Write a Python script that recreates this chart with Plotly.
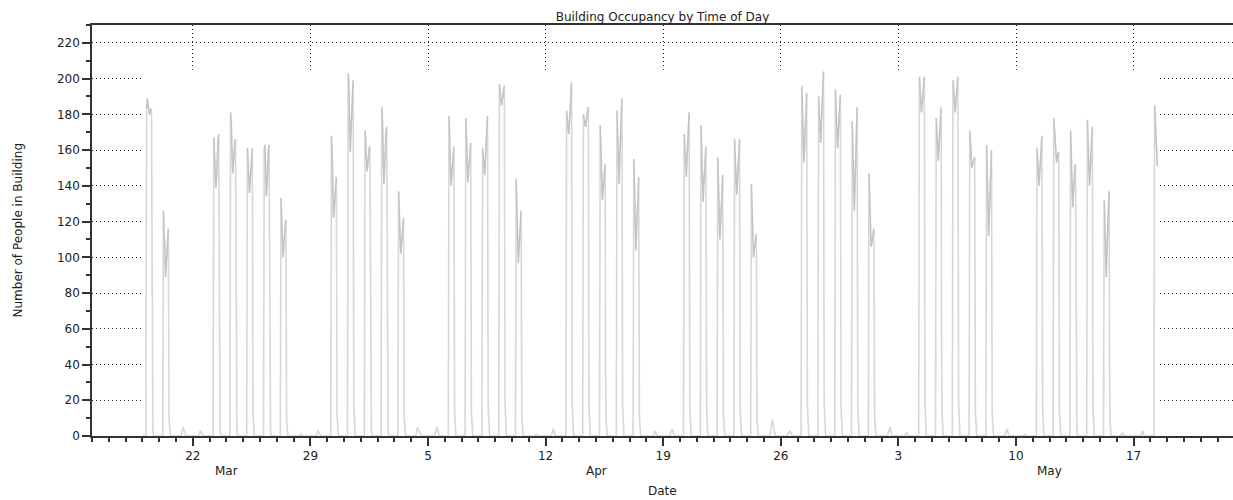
import plotly.graph_objects as go
import pandas as pd

# ---------------- data ----------------
day_start = "2020-03-19"
day_end = "2020-05-18"
data_end = "2020-05-18 10:00"
first_hour = 6  # each row gives the hourly counts from 06:00 to 15:00; other hours are 0

occupancy_rows = [
    [183, 189, 186, 182, 180, 181, 183, 182, 12, 3],   # Mar 19
    [126, 118, 104, 89, 96, 108, 116, 116, 10, 2],     # Mar 20
    [0, 0, 1, 3, 5, 4, 2, 1, 0, 0],                    # Mar 21
    [0, 0, 0, 1, 2, 3, 2, 1, 0, 0],                    # Mar 22
    [167, 160, 150, 139, 145, 158, 165, 169, 14, 4],   # Mar 23
    [181, 175, 160, 147, 152, 160, 165, 166, 16, 4],   # Mar 24
    [161, 155, 145, 136, 142, 152, 158, 161, 12, 3],   # Mar 25
    [160, 163, 150, 134, 140, 152, 160, 163, 15, 4],   # Mar 26
    [133, 125, 110, 100, 104, 112, 118, 121, 8, 2],    # Mar 27
    [0, 0, 0, 0, 1, 1, 0, 0, 0, 0],                    # Mar 28
    [0, 0, 0, 1, 2, 3, 2, 1, 0, 0],                    # Mar 29
    [168, 160, 140, 122, 128, 136, 142, 145, 12, 3],   # Mar 30
    [203, 196, 175, 159, 170, 185, 195, 199, 18, 5],   # Mar 31
    [171, 166, 155, 148, 152, 158, 161, 162, 14, 4],   # Apr 1
    [184, 176, 158, 141, 150, 162, 170, 173, 15, 4],   # Apr 2
    [137, 128, 112, 102, 106, 114, 120, 122, 10, 3],   # Apr 3
    [0, 1, 3, 5, 4, 3, 2, 1, 0, 0],                    # Apr 4
    [0, 0, 0, 0, 1, 2, 4, 5, 3, 1],                    # Apr 5
    [179, 170, 152, 140, 146, 155, 160, 162, 14, 4],   # Apr 6
    [178, 168, 152, 142, 148, 156, 162, 164, 14, 3],   # Apr 7
    [161, 156, 150, 146, 155, 165, 174, 179, 16, 4],   # Apr 8
    [197, 194, 189, 185, 188, 192, 195, 196, 20, 5],   # Apr 9
    [144, 130, 110, 97, 104, 114, 122, 126, 10, 3],    # Apr 10
    [0, 0, 0, 0, 1, 1, 1, 0, 0, 0],                    # Apr 11
    [0, 0, 0, 1, 2, 4, 3, 1, 0, 0],                    # Apr 12
    [182, 176, 172, 169, 175, 184, 192, 198, 18, 5],   # Apr 13
    [180, 178, 176, 173, 176, 180, 183, 184, 16, 4],   # Apr 14
    [174, 165, 148, 132, 138, 145, 150, 152, 12, 3],   # Apr 15
    [182, 170, 155, 141, 155, 170, 182, 189, 16, 4],   # Apr 16
    [155, 140, 120, 104, 115, 128, 140, 145, 10, 2],   # Apr 17
    [0, 0, 0, 0, 0, 1, 2, 3, 1, 0],                    # Apr 18
    [0, 0, 0, 0, 1, 2, 3, 4, 2, 0],                    # Apr 19
    [169, 160, 150, 145, 155, 165, 175, 181, 15, 4],   # Apr 20
    [174, 162, 145, 131, 140, 150, 158, 162, 14, 3],   # Apr 21
    [156, 145, 125, 110, 120, 132, 142, 146, 12, 3],   # Apr 22
    [166, 158, 145, 135, 142, 152, 162, 166, 14, 4],   # Apr 23
    [141, 130, 112, 100, 104, 108, 112, 113, 9, 2],    # Apr 24
    [0, 0, 0, 1, 3, 6, 9, 7, 4, 1],                    # Apr 25
    [0, 0, 0, 0, 1, 2, 3, 3, 2, 1],                    # Apr 26
    [196, 185, 165, 153, 162, 175, 186, 192, 18, 5],   # Apr 27
    [190, 182, 170, 164, 175, 188, 198, 204, 18, 5],   # Apr 28
    [194, 185, 170, 161, 168, 178, 187, 191, 16, 4],   # Apr 29
    [176, 160, 140, 126, 140, 158, 174, 184, 15, 4],   # Apr 30
    [147, 135, 118, 106, 108, 112, 115, 116, 10, 2],   # May 1
    [0, 0, 0, 1, 2, 4, 5, 3, 1, 0],                    # May 2
    [0, 0, 0, 0, 1, 2, 2, 1, 0, 0],                    # May 3
    [201, 196, 188, 181, 186, 193, 199, 201, 18, 5],   # May 4
    [178, 170, 160, 154, 162, 172, 180, 184, 16, 4],   # May 5
    [199, 194, 186, 181, 186, 193, 198, 201, 18, 5],   # May 6
    [171, 165, 158, 150, 152, 154, 156, 156, 14, 6],   # May 7
    [163, 150, 128, 112, 125, 140, 152, 160, 12, 3],   # May 8
    [0, 0, 0, 1, 2, 4, 3, 1, 0, 0],                    # May 9
    [0, 0, 0, 0, 0, 0, 1, 1, 0, 0],                    # May 10
    [161, 154, 146, 140, 148, 156, 163, 168, 15, 4],   # May 11
    [178, 172, 165, 158, 153, 156, 158, 159, 14, 4],   # May 12
    [171, 160, 142, 128, 135, 144, 150, 152, 12, 3],   # May 13
    [177, 168, 152, 140, 150, 162, 170, 173, 15, 4],   # May 14
    [132, 118, 100, 89, 105, 120, 132, 137, 10, 2],    # May 15
    [0, 1, 2, 1, 1, 0, 0, 0, 0, 0],                    # May 16
    [0, 0, 0, 0, 0, 1, 2, 3, 1, 0],                    # May 17
    [185, 176, 168, 160, 151, 0, 0, 0, 0, 0],          # May 18 (series ends 10:00)
]

month_labels = ["Mar", "Apr", "May"]
month_label_dates = ["2020-03-24", "2020-04-15", "2020-05-12"]

# ---------------- build hourly series ----------------
days = pd.date_range(day_start, day_end, freq="D")
times, values = [], []
for d, row in zip(days, occupancy_rows):
    for h in range(24):
        t = d + pd.Timedelta(hours=h)
        k = h - first_hour
        v = row[k] if 0 <= k < len(row) else 0
        times.append(t)
        values.append(v)
series = pd.Series(values, index=times)
series = series[series.index <= pd.Timestamp(data_end)]

# top-of-day portion (overlapping strokes look darker in the reference)
top = series.where((series.index.hour >= first_hour) & (series.index.hour <= first_hour + 7) & (series > 30))

font_family = "DejaVu Sans, Verdana, sans-serif"
axis_col = "#333333"
txt_col = "#222222"

fig = go.Figure()
fig.add_trace(go.Scatter(
    x=series.index, y=series.values, mode="lines",
    line=dict(color="rgba(175,175,175,0.5)", width=1.6),
    hoverinfo="skip", showlegend=False,
))
fig.add_trace(go.Scatter(
    x=top.index, y=top.values, mode="lines", connectgaps=False,
    line=dict(color="rgba(165,165,165,0.4)", width=1.4),
    hoverinfo="skip", showlegend=False,
))

# white panel behind the data that hides the grid across the data span
fig.add_shape(type="rect", xref="x", yref="y",
              x0=series.index[0], x1=series.index[-1], y0=0, y1=series.max() + 1,
              fillcolor="white", line=dict(width=0), layer="between")

for lab, dt in zip(month_labels, month_label_dates):
    fig.add_annotation(x=dt, y=0, xref="x", yref="y", text=lab, showarrow=False,
                       yshift=-35, yanchor="middle",
                       font=dict(family=font_family, size=12, color=txt_col))

fig.add_annotation(x=0.5, y=0, xref="paper", yref="paper", text="Date", showarrow=False,
                   yshift=-55, yanchor="middle", font=dict(family=font_family, size=12, color=txt_col))
fig.add_annotation(x=0, y=0.5, xref="paper", yref="paper", text="Number of People in Building",
                   showarrow=False, textangle=-90, xshift=-75, xanchor="center",
                   font=dict(family=font_family, size=12, color=txt_col))

fig.update_layout(
    width=1233, height=500,
    margin=dict(l=92, r=0, t=25, b=64),
    paper_bgcolor="white", plot_bgcolor="white",
    font=dict(family=font_family, size=12, color=txt_col),
    title=dict(text="Building Occupancy by Time of Day", x=0.5, xref="paper",
               y=1, yref="paper", yanchor="bottom", pad=dict(b=4),
               font=dict(family=font_family, size=12, color=txt_col)),
    xaxis=dict(
        type="date", range=["2020-03-16", "2020-05-22 22:00"],
        tick0="2020-03-22", dtick=7 * 86400000, tickformat="%-d",
        ticks="outside", ticklen=8, tickwidth=1.5, tickcolor=axis_col,
        showline=True, linecolor=axis_col, linewidth=1.5, mirror=True,
        showgrid=True, gridcolor="#222", gridwidth=1, griddash="1px,3px",
        zeroline=False,
        minor=dict(dtick=86400000, tick0="2020-03-22", ticks="outside", ticklen=4,
                   tickwidth=1.5, tickcolor=axis_col, showgrid=False),
        tickfont=dict(family=font_family, size=12, color=txt_col),
    ),
    yaxis=dict(
        range=[0, 230], tick0=0, dtick=20,
        ticks="outside", ticklen=8, tickwidth=1.5, tickcolor=axis_col,
        showline=True, linecolor=axis_col, linewidth=1.5, mirror=False,
        showgrid=True, gridcolor="#222", gridwidth=1, griddash="1px,3px",
        zeroline=False,
        minor=dict(dtick=10, ticks="outside", ticklen=4, tickwidth=1.5,
                   tickcolor=axis_col, showgrid=False),
        tickfont=dict(family=font_family, size=12, color=txt_col),
    ),
)

fig.write_html("out.html")
